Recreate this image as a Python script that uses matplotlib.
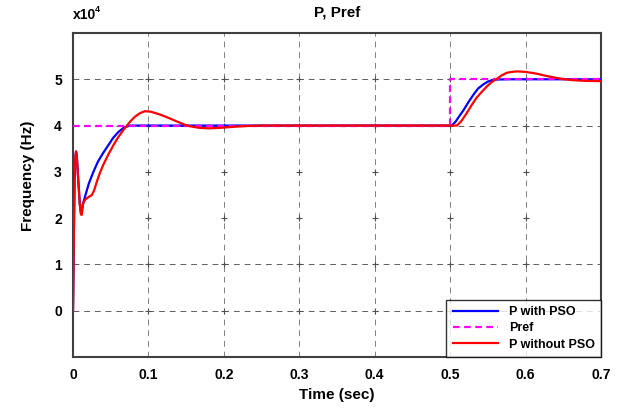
import numpy as np
import matplotlib.pyplot as plt
from matplotlib.lines import Line2D

plt.rcParams['font.family'] = ['Liberation Sans', 'DejaVu Sans']
plt.rcParams['font.weight'] = 'bold'

# time (s) and frequency (x1e4 Hz)
t_pso = [0, 0.001, 0.002, 0.003, 0.004, 0.005, 0.007, 0.009, 0.0105, 0.0115, 0.013,
         0.016, 0.021, 0.027, 0.033, 0.040, 0.047, 0.053, 0.060, 0.067, 0.075, 0.09,
         0.5, 0.502, 0.507, 0.512, 0.518, 0.524, 0.531, 0.537, 0.544, 0.550, 0.556,
         0.562, 0.58, 0.7]
p_pso = [0, 1.5, 2.8, 3.3, 3.44, 3.35, 2.8, 2.3, 2.1, 2.1, 2.3,
         2.47, 2.75, 3.0, 3.22, 3.41, 3.58, 3.73, 3.86, 3.95, 4.0, 4.0,
         4.0, 4.0, 4.08, 4.2, 4.34, 4.5, 4.67, 4.8, 4.89, 4.95, 4.98,
         4.995, 5.0, 5.0]

t_nopso = [0, 0.001, 0.002, 0.003, 0.004, 0.005, 0.007, 0.009, 0.0105, 0.0115, 0.013,
           0.016, 0.020, 0.025, 0.028, 0.031, 0.035, 0.040, 0.047, 0.054, 0.060, 0.067,
           0.072, 0.076, 0.082, 0.089, 0.095, 0.103, 0.115, 0.126, 0.1375, 0.151, 0.160,
           0.168, 0.180, 0.194, 0.210, 0.230, 0.250, 0.5,
           0.505, 0.509, 0.515, 0.522, 0.528, 0.535, 0.542, 0.549, 0.555, 0.562, 0.568,
           0.575, 0.582, 0.589, 0.600, 0.615, 0.628, 0.641, 0.652, 0.663, 0.680, 0.699]
p_nopso = [0, 1.5, 2.8, 3.3, 3.44, 3.35, 2.8, 2.3, 2.08, 2.07, 2.3,
           2.4, 2.45, 2.5, 2.6, 2.76, 2.95, 3.15, 3.38, 3.59, 3.75, 3.91,
           4.01, 4.09, 4.19, 4.27, 4.31, 4.3, 4.24, 4.17, 4.09, 4.0, 3.97,
           3.95, 3.94, 3.95, 3.97, 3.99, 4.0, 4.0,
           4.0, 4.0, 4.1, 4.27, 4.43, 4.6, 4.73, 4.85, 4.94, 5.01, 5.08,
           5.14, 5.16, 5.17, 5.16, 5.12, 5.07, 5.03, 5.0, 4.98, 4.965, 4.96]

t_ref = [0, 0.5, 0.5, 0.7]
p_ref = [4, 4, 5, 5]

x_ticks = [0, 0.1, 0.2, 0.3, 0.4, 0.5, 0.6, 0.7]
y_ticks = [0, 1, 2, 3, 4, 5]

fig = plt.figure(figsize=(6.21, 4.15), dpi=100)
ax = fig.add_axes([0.1176, 0.1398, 0.8502, 0.7807])
ax.set_xlim(0, 0.7)
ax.set_ylim(-1, 6)

# MATLAB-style grid: dashed lines, with only crosses left on the 2 and 3 rows
gcol = '#606060'
for xv in x_ticks[1:-1]:
    ax.axvline(xv, color='#808080', lw=0.7, ls=(0, (6, 5)), zorder=1)
for yv in [0, 1, 4, 5]:
    ax.axhline(yv, color=gcol, lw=0.7, ls=(0, (6, 5)), zorder=1)
gx, gy = np.meshgrid(x_ticks[1:-1], y_ticks)
ax.plot(gx.ravel(), gy.ravel(), '+', color='#505050', ms=5, mew=0.8, zorder=1)

ax.plot(t_pso, p_pso, color='#0000ff', lw=1.6, zorder=3, label='P with PSO')
ax.plot(t_ref, p_ref, color='#ff00ff', lw=1.6, ls=(0, (3, 2)), zorder=4, label='Pref')
ax.plot(t_nopso, p_nopso, color='#ff0000', lw=1.6, zorder=5, label='P without PSO')

ax.set_xticks(x_ticks)
ax.set_xticklabels(['0', '0.1', '0.2', '0.3', '0.4', '0.5', '0.6', '0.7'])
ax.set_yticks(y_ticks)
ax.tick_params(length=0, labelsize=10)
ax.tick_params(axis='x', pad=8)
ax.tick_params(axis='y', pad=8)
for s in ax.spines.values():
    s.set_color('#404040')
    s.set_linewidth(1.5)

ax.set_title('P, Pref', fontsize=11, fontweight='bold', pad=12)
ax.set_xlabel('Time (sec)', fontsize=11, fontweight='bold')
ax.xaxis.set_label_coords(0.5, -0.097)
ax.set_ylabel('Frequency (Hz)', fontsize=11, fontweight='bold')
ax.yaxis.set_label_coords(-0.072, 0.56)

ax.text(0.0, 1.035, 'x10', transform=ax.transAxes, fontsize=10, fontweight='bold',
        ha='left', va='bottom')
ax.text(0.042, 1.06, '4', transform=ax.transAxes, fontsize=6.5, fontweight='bold',
        ha='left', va='bottom')

handles = [Line2D([], [], color='#0000ff', lw=1.6),
           Line2D([], [], color='#ff00ff', lw=1.6, ls=(0, (3, 2))),
           Line2D([], [], color='#ff0000', lw=1.6)]
leg = ax.legend(handles, ['P with PSO', 'Pref', 'P without PSO'], loc='lower right',
                fontsize=9, frameon=True, fancybox=False, borderaxespad=0,
                handlelength=3.6, labelspacing=0.35, borderpad=0.5, handletextpad=0.9)
leg.get_frame().set_edgecolor('black')
leg.get_frame().set_linewidth(1.0)
leg.set_zorder(6)

fig.savefig('out.png', dpi=100)
